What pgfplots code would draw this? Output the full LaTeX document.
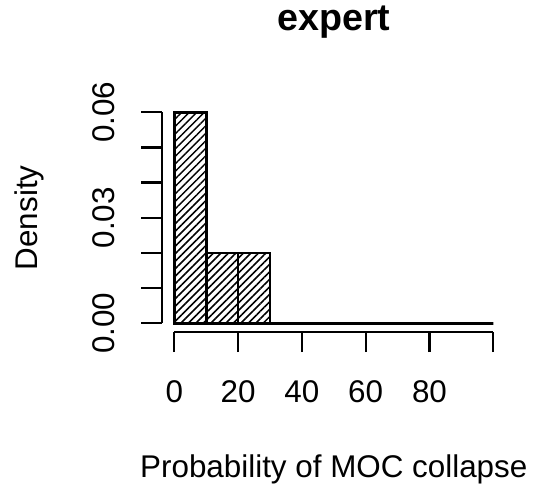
\documentclass[border=0pt]{standalone}
\usepackage{fontspec}
\setmainfont{Liberation Sans}
\usepackage{pgfplots}
\pgfplotsset{compat=1.18}
\usetikzlibrary{patterns.meta}
\begin{document}
\begin{tikzpicture}
\useasboundingbox (0,0) rectangle (536bp,489bp);
\begin{axis}[
  at={(161.7bp,157.3bp)}, anchor=south west,
  scale only axis, width=331.6bp, height=219.4bp,
  xmin=-3.95, xmax=100, ymin=-0.00239, ymax=0.06,
  clip=false,
  scaled y ticks=false,
  axis x line*=bottom, axis y line*=left,
  axis line style={-, line width=2.3bp},
  x axis line style={shorten <=12.6bp},
  y axis line style={shorten <=8.4bp},
  tick align=outside, major tick length=20.5bp,
  every tick/.style={black, line width=2.3bp},
  xtick={0,20,40,60,80,100},
  xticklabels={0,20,40,60,80,{}},
  ytick={0,0.01,0.02,0.03,0.04,0.05,0.06},
  yticklabels={0.00,{},{},0.03,{},{},0.06},
  ticklabel style={font=\fontsize{31.5}{37}\selectfont},
  x tick label style={anchor=base, yshift=-50.5bp},
  y tick label style={anchor=base, xshift=-26.2bp, rotate=90},
  title={expert},
  title style={font=\bfseries\fontsize{37.8}{44}\selectfont, at={(axis description cs:0.519,1.3478)}, anchor=base},
  xlabel={Probability of MOC collapse},
  xlabel style={font=\fontsize{31.5}{37}\selectfont, at={(axis description cs:0.519,-0.6654)}, anchor=base},
  ylabel={Density},
  ylabel style={font=\fontsize{31.5}{37}\selectfont, at={(axis description cs:-0.376,0.519)}, anchor=base, rotate=0},
]
\addplot[ybar interval, draw=none,
  pattern={Lines[angle=45,distance=5.3bp,line width=1.5bp]}, pattern color=black]
  coordinates {(0,0.06) (10,0.02) (20,0.02) (30,0) (40,0) (50,0) (60,0) (70,0) (80,0) (90,0) (100,0)};
\addplot[ybar interval, draw=black, fill=none, line width=2.6bp]
  coordinates {(0,0.06) (10,0.02) (20,0.02) (30,0) (40,0) (50,0) (60,0) (70,0) (80,0) (90,0) (100,0)};
\end{axis}
\end{tikzpicture}
\end{document}
